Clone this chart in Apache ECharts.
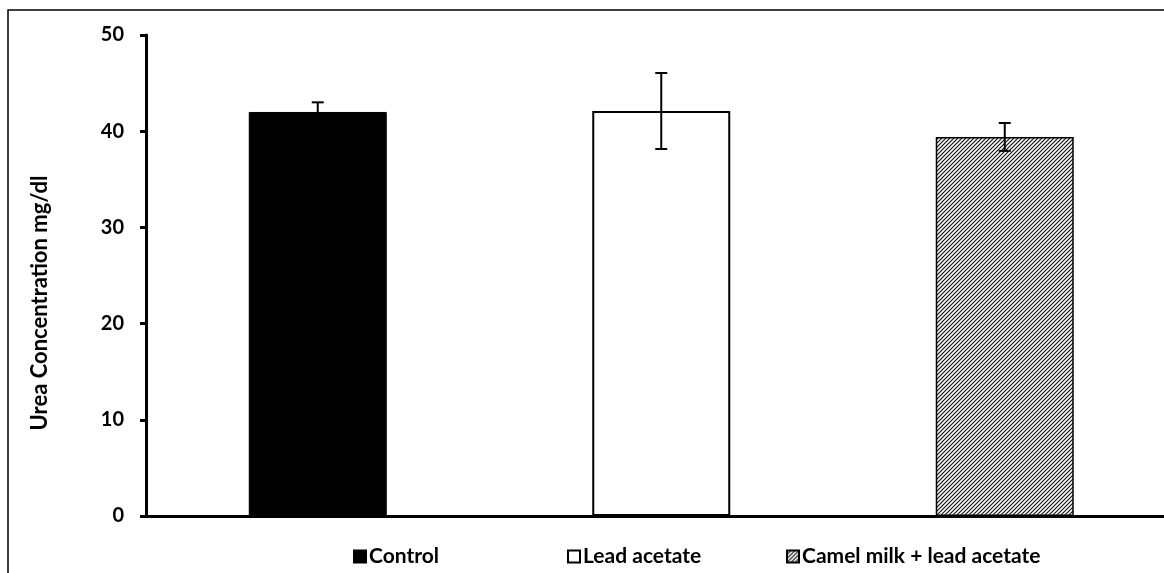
<!DOCTYPE html>
<html>
<head>
<meta charset="utf-8">
<script src="https://cdn.jsdelivr.net/npm/echarts@6/dist/echarts.min.js"></script>
<style>
html,body{margin:0;padding:0;background:#fff;}
#chart{width:1164px;height:573px;}
</style>
</head>
<body>
<div id="chart"></div>
<script>
var categories = ['Control', 'Lead acetate', 'Camel milk + lead acetate'];
var means = [42.0, 42.1, 39.4];
var errors = [1.0, 3.95, 1.45];
var yTicks = [0, 10, 20, 30, 40, 50];
var yTitle = 'Urea Concentration mg/dl';

var FONT = 'Lato, "Open Sans", sans-serif';

// hatch pattern
var P = 4;
var pc = document.createElement('canvas');
pc.width = P; pc.height = P;
var pctx = pc.getContext('2d');
pctx.fillStyle = '#fff';
pctx.fillRect(0, 0, P, P);
pctx.strokeStyle = '#111';
pctx.lineWidth = 1.2;
pctx.beginPath();
pctx.moveTo(-1, P + 1); pctx.lineTo(P + 1, -1);
pctx.moveTo(-1, 1); pctx.lineTo(1, -1);
pctx.moveTo(P - 1, P + 1); pctx.lineTo(P + 1, P - 1);
pctx.stroke();
var hatch = {image: pc, repeat: 'repeat'};

var styles = [
  {color: '#000', borderColor: '#000', borderWidth: 1},
  {color: '#fff', borderColor: '#000', borderWidth: 2},
  {color: hatch, borderColor: '#000', borderWidth: 1.5}
];

var series = categories.map(function (name, i) {
  return {
    name: name,
    type: 'bar',
    barWidth: 138,
    barGap: '-100%',
    data: [[i, means[i]]],
    itemStyle: styles[i],
    emphasis: {disabled: true},
    z: 2
  };
});

series.push({
  type: 'custom',
  name: 'err',
  z: 5,
  data: categories.map(function (c, i) { return [i, means[i] - errors[i], means[i] + errors[i]]; }),
  renderItem: function (params, api) {
    var x = api.value(0);
    var lo = api.coord([x, api.value(1)]);
    var hi = api.coord([x, api.value(2)]);
    var hw = 6;
    var st = {stroke: '#000', lineWidth: 2};
    return {
      type: 'group',
      children: [
        {type: 'line', shape: {x1: hi[0], y1: hi[1], x2: lo[0], y2: lo[1]}, style: st},
        {type: 'line', shape: {x1: hi[0] - hw, y1: hi[1], x2: hi[0] + hw, y2: hi[1]}, style: st},
        {type: 'line', shape: {x1: lo[0] - hw, y1: lo[1], x2: lo[0] + hw, y2: lo[1]}, style: st}
      ]
    };
  }
});

var legendPos = [353, 567, 786];
var legends = categories.map(function (name, i) {
  return {
    data: [name],
    left: legendPos[i],
    top: 546,
    icon: 'rect',
    itemWidth: 12,
    itemHeight: 12,
    itemGap: 4,
    padding: 0,
    selectedMode: false,
    textStyle: {fontFamily: FONT, fontWeight: 'bold', fontSize: 21, color: '#000', padding: [0, 0, 0, -2]}
  };
});

var chart = echarts.init(document.getElementById('chart'), null, {renderer: 'canvas'});
chart.setOption({
  animation: false,
  backgroundColor: '#fff',
  grid: {left: 146, top: 35, bottom: 57, right: 0, containLabel: false},
  legend: legends,
  xAxis: {
    type: 'value',
    min: -0.5,
    max: 2.4636,
    axisLine: {show: true, onZero: false, lineStyle: {color: '#000', width: 3}},
    axisTick: {show: false},
    axisLabel: {show: false},
    splitLine: {show: false}
  },
  yAxis: {
    type: 'value',
    min: yTicks[0],
    max: yTicks[yTicks.length - 1],
    interval: 10,
    axisLine: {show: true, onZero: false, lineStyle: {color: '#000', width: 3}},
    axisTick: {show: true, length: 6, lineStyle: {color: '#000', width: 3}},
    axisLabel: {fontFamily: FONT, fontWeight: 'bold', fontSize: 20, color: '#000', margin: 22},
    splitLine: {show: false}
  },
  graphic: [{
    type: 'rect',
    shape: {x: 8, y: 10, width: 1200, height: 700},
    style: {fill: 'none', stroke: '#000', lineWidth: 1.5},
    silent: true,
    z: 0
  }, {
    type: 'text',
    x: 40,
    y: 303,
    rotation: Math.PI / 2,
    style: {
      text: yTitle,
      fontFamily: FONT,
      fontWeight: 'bold',
      fontSize: 22,
      fill: '#000',
      align: 'center',
      verticalAlign: 'middle'
    },
    silent: true
  }],
  series: series
});
</script>
</body>
</html>
